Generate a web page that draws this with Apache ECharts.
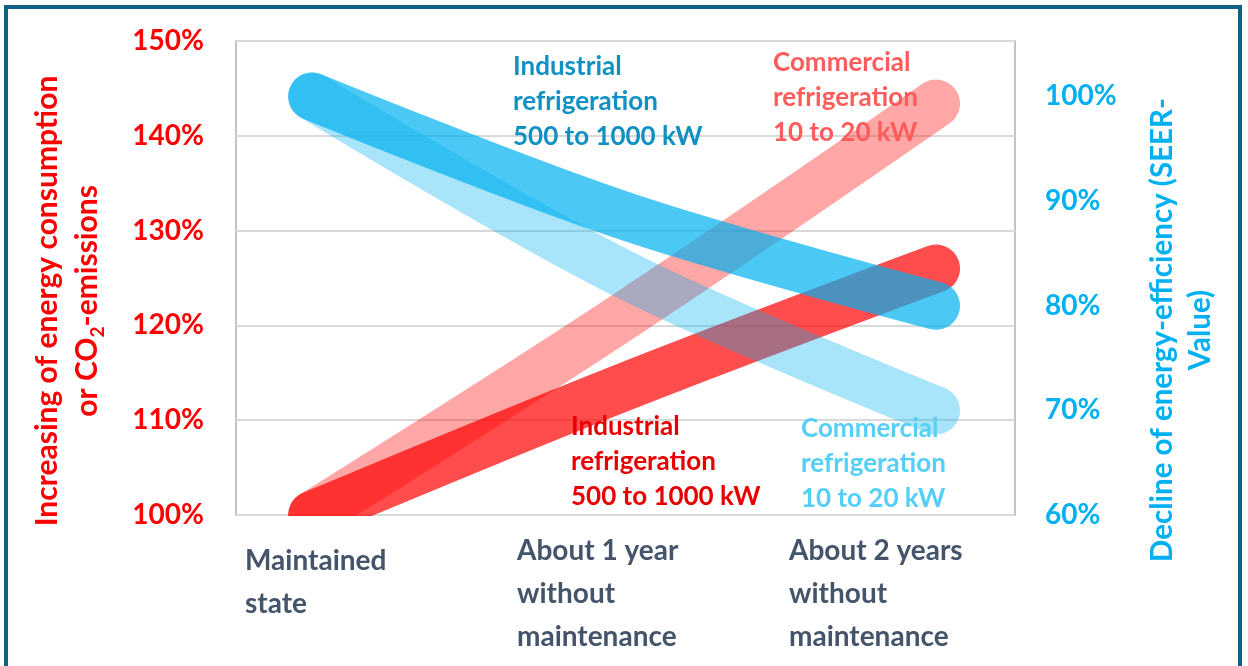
<!DOCTYPE html>
<html>
<head>
<meta charset="utf-8">
<script src="https://cdn.jsdelivr.net/npm/echarts@6/dist/echarts.min.js"></script>
<style>
html,body{margin:0;padding:0;background:#fff;}
#c{width:1248px;height:666px;}
</style>
</head>
<body>
<div id="c"></div>
<script>
// ---- data ----
const categories = ['Maintained\nstate', 'About 1 year\nwithout\nmaintenance', 'About 2 years\nwithout\nmaintenance'];
const industrialEnergy = [100, 113.5, 126];   // left axis (%)
const commercialEnergy = [100, 121, 143.4];   // left axis (%)
const industrialEfficiency = [100, 88.6, 80]; // right axis (%)
const commercialEfficiency = [100, 83, 70];   // right axis (%)
const leftTicks = [100, 110, 120, 130, 140, 150];
const rightTicks = [60, 70, 80, 90, 100];
const seriesNames = [
  'Industrial refrigeration 500 to 1000 kW (energy)',
  'Commercial refrigeration 10 to 20 kW (energy)',
  'Industrial refrigeration 500 to 1000 kW (efficiency)',
  'Commercial refrigeration 10 to 20 kW (efficiency)'
];
const annotationTexts = [
  'Industrial\nrefrigeration\n500 to 1000 kW',
  'Commercial\nrefrigeration\n10 to 20 kW',
  'Industrial\nrefrigeration\n500 to 1000 kW',
  'Commercial\nrefrigeration\n10 to 20 kW'
];
const leftTitle = ['Increasing of energy consumption', 'or CO', '2', '-emissions'];
const rightTitle = 'Decline of energy-efficiency (SEER-\nValue)';

// ---- chart ----
const FONT = 'Lato';
const chart = echarts.init(document.getElementById('c'));
const pts = arr => arr.map((v, i) => [i, v]);

function lineSeries(name, data, yIdx, color) {
  return {
    name, type: 'line', xAxisIndex: 0, yAxisIndex: yIdx, z: 2,
    data: pts(data), smooth: 0.35, symbol: 'none', clip: true,
    lineStyle: { width: 48, color, cap: 'round', join: 'round' },
    emphasis: { disabled: true }, silent: true
  };
}

const annoStyle = (text, fill) => ({
  text, fill, font: 'bold 26px ' + FONT, lineHeight: 35
});

chart.setOption({
  backgroundColor: '#ffffff',
  animation: false,
  grid: [
    { left: 236, top: 41, width: 779, height: 474, show: true, borderColor: '#c4c4c4', borderWidth: 2, backgroundColor: 'transparent', outerBoundsMode: 'none', containLabel: false },
    { left: 109, top: 514, width: 816, height: 1, outerBoundsMode: 'none', containLabel: false }
  ],
  xAxis: [
    { type: 'value', gridIndex: 0, min: -0.244, max: 2.253, show: false },
    {
      type: 'category', gridIndex: 1, position: 'bottom', boundaryGap: true, z: 60,
      data: categories.map((c, i) => i === 0 ? { value: c, textStyle: { align: 'left', padding: [10, 0, 0, 0] } } : c),
      axisLine: { show: false }, axisTick: { show: false }, splitLine: { show: false },
      axisLabel: {
        interval: 0, align: 'left', margin: 14, color: '#44546a',
        fontFamily: FONT, fontWeight: 'bold', fontSize: 28, lineHeight: 43
      }
    }
  ],
  yAxis: [
    {
      type: 'value', gridIndex: 0, position: 'left',
      min: leftTicks[0], max: leftTicks[leftTicks.length - 1], interval: 10,
      axisLine: { show: false }, axisTick: { show: false },
      splitLine: { show: true, lineStyle: { color: '#d9d9d9', width: 2 } },
      axisLabel: { formatter: '{value}%', color: '#ff0000', fontFamily: FONT, fontWeight: 'bold', fontSize: 28, margin: 32 },
      name: '{a|' + leftTitle[0] + '}\n{a|' + leftTitle[1] + '}{s|' + leftTitle[2] + '}{a|' + leftTitle[3] + '}',
      nameLocation: 'middle', nameGap: 129,
      nameTextStyle: {
        padding: [0, 46, 0, 0],
        rich: {
          a: { color: '#ff0000', fontFamily: FONT, fontWeight: 'bold', fontSize: 30, lineHeight: 40 },
          s: { color: '#ff0000', fontFamily: FONT, fontWeight: 'bold', fontSize: 19, lineHeight: 20, verticalAlign: 'bottom' }
        }
      }
    },
    {
      type: 'value', gridIndex: 0, position: 'right',
      min: rightTicks[0], max: 105.3, interval: 10,
      axisLine: { show: false }, axisTick: { show: false }, splitLine: { show: false },
      axisLabel: { formatter: '{value}%', color: '#00b0f0', fontFamily: FONT, fontWeight: 'bold', fontSize: 28, margin: 30, showMaxLabel: false },
      name: rightTitle, nameLocation: 'middle', nameGap: 128,
      nameTextStyle: { color: '#00b0f0', fontFamily: FONT, fontWeight: 'bold', fontSize: 29.5, lineHeight: 38, padding: [0, 104, 0, 0] }
    },
    { type: 'value', gridIndex: 1, show: false }
  ],
  series: [
    lineSeries(seriesNames[0], industrialEnergy, 0, 'rgba(255,0,0,0.7)'),
    lineSeries(seriesNames[1], commercialEnergy, 0, 'rgba(255,0,0,0.35)'),
    lineSeries(seriesNames[3], commercialEfficiency, 1, 'rgba(0,176,240,0.34)'),
    lineSeries(seriesNames[2], industrialEfficiency, 1, 'rgba(0,176,240,0.7)')
  ],
  graphic: {
    z: 50,
    elements: [
      // white band masking the thick line ends below the plot area (plot clip)
      { type: 'rect', silent: true, z: 50, shape: { x: 230, y: 516, width: 790, height: 32 }, style: { fill: '#ffffff' } },
      { type: 'rect', silent: true, z: 100, shape: { x: 6, y: 7, width: 1234, height: 700 }, style: { fill: 'none', stroke: '#0f5f86', lineWidth: 4 } },
      { type: 'text', left: 513, top: 49, z: 100, style: annoStyle(annotationTexts[0], '#1190c4') },
      { type: 'text', left: 773, top: 45, z: 100, style: annoStyle(annotationTexts[1], '#ff5b5b') },
      { type: 'text', left: 571, top: 409, z: 100, style: annoStyle(annotationTexts[2], '#e80000') },
      { type: 'text', left: 801, top: 411, z: 100, style: annoStyle(annotationTexts[3], '#55cff7') }
    ]
  }
});
</script>
</body>
</html>
